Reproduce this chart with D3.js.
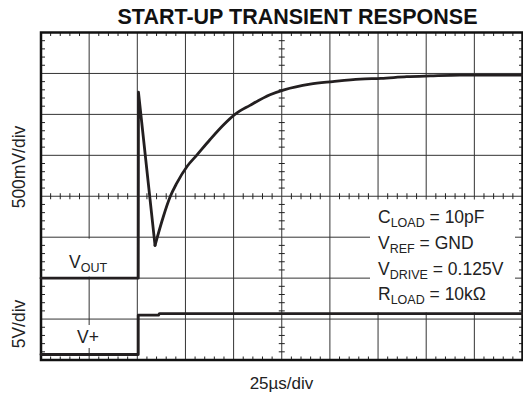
<!DOCTYPE html>
<html><head><meta charset="utf-8">
<script src="https://cdn.jsdelivr.net/npm/d3@7/dist/d3.min.js"></script>
<style>
html,body{margin:0;padding:0;background:#fff;}
svg{display:block;font-family:"Liberation Sans",Arial,Helvetica,sans-serif;}
</style></head>
<body><svg id="c" width="523" height="401"></svg>
<script>
// ---- data ----
const title = "START-UP TRANSIENT RESPONSE";
const xLabel = "25\u00b5s/div";
const yLabelTop = "500mV/div";
const yLabelBottom = "5V/div";
// time in microseconds (25us/div, 10 divisions)
const timeDomain = [0, 250];
// V_OUT trace (volts, 500mV/div): edge part (straight segments) and recovery part (smooth)
const edgeTime = [0, 50.5, 50.6, 59.2];
const edgeVolts = [0, 0, 2.27, 0.40];
const recTime = [59.2, 63.5, 67.0, 70.5, 76.0, 80.8, 87.7, 94.7, 100.7, 108.5, 118.9, 126.2, 139.7, 151.5, 165.7, 176.5, 189.9, 202, 217.5, 227, 250];
const recVolts = [0.40, 0.75, 0.99, 1.16, 1.37, 1.50, 1.69, 1.87, 2.00, 2.11, 2.24, 2.30, 2.37, 2.40, 2.43, 2.44, 2.46, 2.47, 2.48, 2.48, 2.48];
// V+ trace (volts, 5V/div)
const vplusTime = [0, 50.5, 50.5, 61, 61.5, 250];
const vplusVolts = [0, 0, 4.8, 4.8, 5.0, 5.0];
// conditions text
const condMain = ["C", "V", "V", "R"];
const condSub = ["LOAD", "REF", "DRIVE", "LOAD"];
const condValue = [" = 10pF", " = GND", " = 0.125V", " = 10k\u03a9"];

// ---- layout ----
const L = 41, R = 522.5, T = 32.5, B = 360;
const svg = d3.select("#c");
const x = d3.scaleLinear().domain(timeDomain).range([L, R]);
const yDiv = d3.scaleLinear().domain([0, 8]).range([B, T]);
const yOut = d3.scaleLinear().domain([-1, 3]).range([B, T]);
const yPlus = d3.scaleLinear().domain([-0.67, 39.33]).range([B, T]);

const majorX = d3.range(0, 251, 25);
const minorX = d3.range(0, 251, 5).filter(t => t % 25 !== 0);
const majorY = d3.range(0, 9, 1);
const minorY = d3.range(0, 8.01, 0.2).map(v => +v.toFixed(1)).filter(v => Math.abs(v - Math.round(v)) > 1e-6);

const g = svg.append("g");
const gridCol = "#333";
g.selectAll(".vg").data(majorX.slice(1, -1)).join("line")
  .attr("x1", d => x(d)).attr("x2", d => x(d)).attr("y1", T).attr("y2", B)
  .attr("stroke", gridCol).attr("stroke-width", 1);
g.selectAll(".hg").data(majorY.slice(1, -1)).join("line")
  .attr("x1", L).attr("x2", R).attr("y1", d => yDiv(d)).attr("y2", d => yDiv(d))
  .attr("stroke", gridCol).attr("stroke-width", 1);

const tk = 3.5;
g.selectAll(".tt").data(minorX).join("line")
  .attr("x1", d => x(d)).attr("x2", d => x(d)).attr("y1", T).attr("y2", T + tk)
  .attr("stroke", "#222").attr("stroke-width", 1);
g.selectAll(".bt").data(minorX).join("line")
  .attr("x1", d => x(d)).attr("x2", d => x(d)).attr("y1", B).attr("y2", B - tk)
  .attr("stroke", "#222").attr("stroke-width", 1);
g.selectAll(".lt").data(minorY).join("line")
  .attr("x1", L).attr("x2", L + tk + 0.5).attr("y1", d => yDiv(d)).attr("y2", d => yDiv(d))
  .attr("stroke", "#222").attr("stroke-width", 1);
g.selectAll(".rt").data(minorY).join("line")
  .attr("x1", R).attr("x2", R - tk).attr("y1", d => yDiv(d)).attr("y2", d => yDiv(d))
  .attr("stroke", "#222").attr("stroke-width", 1);
g.selectAll(".cx").data(minorX).join("line")
  .attr("x1", d => x(d)).attr("x2", d => x(d)).attr("y1", yDiv(4) - 3).attr("y2", yDiv(4) + 3)
  .attr("stroke", "#222").attr("stroke-width", 1);
g.selectAll(".cy").data(minorY).join("line")
  .attr("x1", x(125) - 3).attr("x2", x(125) + 3).attr("y1", d => yDiv(d)).attr("y2", d => yDiv(d))
  .attr("stroke", "#222").attr("stroke-width", 1);

// white boxes behind labels
g.append("rect").attr("x", 56).attr("y", yDiv(3) + 1.5).attr("width", 70).attr("height", yDiv(2) - yDiv(3) - 3).attr("fill", "#fff");
g.append("rect").attr("x", 62).attr("y", 325).attr("width", 50).attr("height", 23).attr("fill", "#fff");
g.append("rect").attr("x", 370).attr("y", 199.5).attr("width", 145).attr("height", 113).attr("fill", "#fff");

g.append("rect").attr("x", L).attr("y", T).attr("width", R - L).attr("height", B - T)
  .attr("fill", "none").attr("stroke", "#111").attr("stroke-width", 2.5);

// traces
const lineLin = d3.line().curve(d3.curveLinear);
const lineSmooth = d3.line().curve(d3.curveMonotoneX);
const traceStyle = sel => sel.attr("fill", "none").attr("stroke", "#231f20")
  .attr("stroke-width", 2.8).attr("stroke-linejoin", "round").attr("stroke-linecap", "round");
g.append("path").attr("d", lineLin(edgeTime.map((t, i) => [x(t), yOut(edgeVolts[i])]))).call(traceStyle);
g.append("path").attr("d", lineSmooth(recTime.map((t, i) => [x(t), yOut(recVolts[i])]))).call(traceStyle);
g.append("path").attr("d", lineLin(vplusTime.map((t, i) => [x(t), yPlus(vplusVolts[i])]))).call(traceStyle);

// labels
svg.append("text").attr("x", 297.5).attr("y", 24).attr("text-anchor", "middle")
  .attr("font-size", 21.5).attr("font-weight", "bold").attr("fill", "#111").text(title);
svg.append("text").attr("x", 281.5).attr("y", 389).attr("text-anchor", "middle")
  .attr("font-size", 17).attr("fill", "#222").text(xLabel);
svg.append("text").attr("transform", "translate(25,167) rotate(-90)").attr("text-anchor", "middle")
  .attr("font-size", 17.5).attr("fill", "#222").text(yLabelTop);
svg.append("text").attr("transform", "translate(25,324) rotate(-90)").attr("text-anchor", "middle")
  .attr("font-size", 17.5).attr("fill", "#222").text(yLabelBottom);

const vo = svg.append("text").attr("x", 69).attr("y", 268).attr("font-size", 17.5).attr("fill", "#222");
vo.append("tspan").text("V");
vo.append("tspan").attr("font-size", 12.5).attr("dy", 3.5).text("OUT");
svg.append("text").attr("x", 88).attr("y", 343).attr("text-anchor", "middle").attr("font-size", 17.5).attr("fill", "#222").text("V+");

const baseY = [223, 248.8, 274.5, 300];
condMain.forEach((m, i) => {
  const t = svg.append("text").attr("x", 378).attr("y", baseY[i]).attr("font-size", 17.5).attr("fill", "#222");
  t.append("tspan").text(m);
  t.append("tspan").attr("font-size", 12.5).attr("dy", 4).text(condSub[i]);
  t.append("tspan").attr("dy", -4).text(condValue[i]);
});
</script></body></html>
